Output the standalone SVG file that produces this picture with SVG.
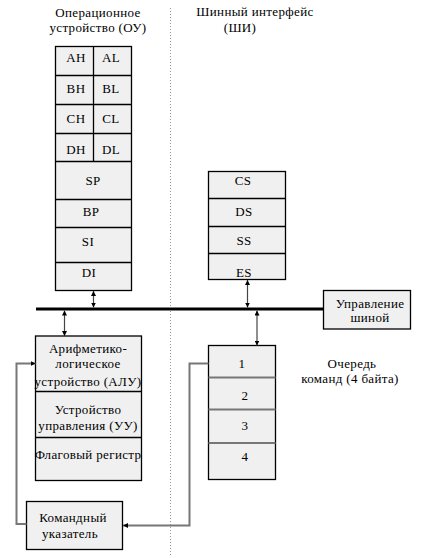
<svg xmlns="http://www.w3.org/2000/svg" width="424" height="558" viewBox="0 0 424 558">
<style>
text{font-size:13px;fill:#000;text-anchor:middle;letter-spacing:0.35px}
.box{fill:#f0f0f0;stroke:#000;stroke-width:1.3}
.sep{stroke:#000;stroke-width:1.3}
.gsep{stroke:#777;stroke-width:2}
.ln{stroke:#444;stroke-width:1.2;fill:none}
.gl{stroke:#777;stroke-width:2;fill:none}
</style>
<defs>
<marker id="ah" viewBox="0 0 8 8" refX="8" refY="4" markerWidth="5" markerHeight="5" orient="auto-start-reverse" markerUnits="userSpaceOnUse">
<path d="M0,0 L8,4 L0,8 z" fill="#000"/>
</marker>
</defs>
<rect width="424" height="558" fill="#fff"/>
<line x1="170.5" y1="8" x2="170.5" y2="556" stroke="#999" stroke-width="1" stroke-dasharray="1,2"/>
<g font-family="Liberation Serif">
<g id="title-ou"><text x="98" y="17">Операционное</text><text x="98" y="32">устройство (ОУ)</text></g>
<g id="title-bi"><text x="255" y="16">Шинный интерфейс</text><text x="240" y="32">(ШИ)</text></g>
<g id="registers">
<rect class="box" x="55.5" y="46.5" width="76" height="244"/>
<line class="sep" x1="55.5" y1="75.5" x2="131.5" y2="75.5"/>
<line class="sep" x1="55.5" y1="104.5" x2="131.5" y2="104.5"/>
<line class="sep" x1="55.5" y1="133.5" x2="131.5" y2="133.5"/>
<line class="sep" x1="55.5" y1="161.5" x2="131.5" y2="161.5"/>
<line class="sep" x1="55.5" y1="199.5" x2="131.5" y2="199.5"/>
<line class="sep" x1="55.5" y1="227.5" x2="131.5" y2="227.5"/>
<line class="sep" x1="55.5" y1="262.5" x2="131.5" y2="262.5"/>
<line class="sep" x1="93.5" y1="46.5" x2="93.5" y2="161.5"/>
<text x="76" y="62">AH</text><text x="111" y="62">AL</text>
<text x="76" y="93">BH</text><text x="111" y="93">BL</text>
<text x="76" y="123">CH</text><text x="111" y="123">CL</text>
<text x="76" y="154">DH</text><text x="111" y="154">DL</text>
<text x="93" y="185">SP</text>
<text x="91" y="215.5">BP</text>
<text x="88" y="245.5">SI</text>
<text x="89" y="276.5">DI</text>
</g>
<g id="segments">
<rect class="box" x="208.5" y="171.5" width="77" height="108"/>
<line class="sep" x1="208.5" y1="198.5" x2="285.5" y2="198.5"/>
<line class="sep" x1="208.5" y1="226.5" x2="285.5" y2="226.5"/>
<line class="sep" x1="208.5" y1="253.5" x2="285.5" y2="253.5"/>
<text x="243" y="185">CS</text>
<text x="244" y="216">DS</text>
<text x="244" y="245">SS</text>
<text x="244" y="276.5">ES</text>
</g>
<g id="bus-control">
<rect class="box" x="323.5" y="290.5" width="87" height="38.5"/>
<text x="370" y="307.5">Управление</text>
<text x="370" y="321.5">шиной</text>
</g>
<g id="alu">
<rect class="box" x="35.5" y="336" width="106" height="144.5"/>
<line class="sep" x1="35.5" y1="391.5" x2="141.5" y2="391.5"/>
<line class="sep" x1="35.5" y1="437.5" x2="141.5" y2="437.5"/>
<text x="88" y="353">Арифметико-</text>
<text x="88" y="367.5">логическое</text>
<text x="88" y="385.5">устройство (АЛУ)</text>
<text x="88" y="414">Устройство</text>
<text x="88" y="430">управления (УУ)</text>
<text x="88" y="459">Флаговый регистр</text>
</g>
<g id="queue">
<rect class="box" x="208.5" y="345.5" width="67" height="134"/>
<line class="gsep" x1="208.5" y1="377.5" x2="275.5" y2="377.5"/>
<line class="gsep" x1="208.5" y1="409.5" x2="275.5" y2="409.5"/>
<line class="gsep" x1="208.5" y1="443" x2="275.5" y2="443"/>
<text x="242" y="368">1</text>
<text x="245" y="399.5">2</text>
<text x="245" y="430">3</text>
<text x="245" y="461">4</text>
</g>
<g id="queue-label"><text x="352" y="368">Очередь</text><text x="350" y="383">команд (4 байта)</text></g>
<g id="ip">
<rect class="box" x="26.5" y="501.5" width="96" height="48"/>
<text x="73" y="521.5">Командный</text>
<text x="70" y="538">указатель</text>
</g>
</g>
<g id="connectors">
<line x1="36" y1="309" x2="323.5" y2="309" stroke="#000" stroke-width="3"/>
<line class="ln" x1="93.5" y1="291" x2="93.5" y2="307.5" marker-start="url(#ah)" marker-end="url(#ah)"/>
<line class="ln" x1="247.5" y1="280" x2="247.5" y2="307.5" marker-start="url(#ah)" marker-end="url(#ah)"/>
<line class="ln" x1="64.5" y1="310.5" x2="64.5" y2="336" marker-start="url(#ah)" marker-end="url(#ah)"/>
<line class="ln" x1="257" y1="310.5" x2="257" y2="345.5" marker-start="url(#ah)" marker-end="url(#ah)"/>
<polyline class="gl" points="208.5,363.5 189.5,363.5 189.5,525.5 123,525.5" marker-end="url(#ah)"/>
<polyline class="gl" points="26.5,524 16.5,524 16.5,363.5 35.5,363.5" marker-end="url(#ah)"/>
</g>
</svg>
